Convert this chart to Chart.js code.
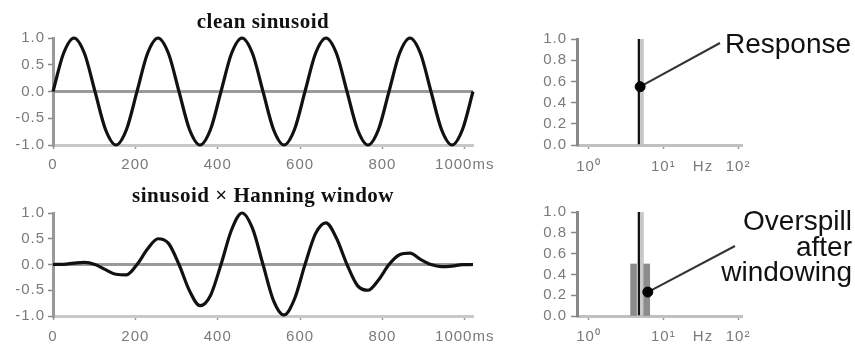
<!DOCTYPE html>
<html>
<head>
<meta charset="utf-8">
<script src="https://cdn.jsdelivr.net/npm/chart.js@4.4.0/dist/chart.umd.min.js"></script>
<style>
    body { margin: 0; background: #fff; }
    .box { position: absolute; }
</style>
</head>
<body>
<div class="box" style="left:0;top:0;width:500px;height:175px"><canvas id="wave_clean"></canvas></div>
<div class="box" style="left:0;top:175px;width:500px;height:171px"><canvas id="wave_hann"></canvas></div>
<div class="box" style="left:500px;top:0;width:355px;height:175px"><canvas id="spec_clean"></canvas></div>
<div class="box" style="left:500px;top:175px;width:355px;height:171px"><canvas id="spec_hann"></canvas></div>
<script>
// sample times (ms)
const time_ms = [0, 25.5, 51, 76.5, 102, 127.5, 153, 178.5, 204, 229.5, 255, 280.5, 306, 331.5, 357, 382.5,
    408, 433.5, 459, 484.5, 510, 535.5, 561, 586.5, 612, 637.5, 663, 688.5, 714, 739.5, 765, 790.5,
    816, 841.5, 867, 892.5, 918, 943.5, 969, 994.5, 1020]
// clean sinusoid
const clean_wave = [0, 0.71, 1, 0.71, 0, -0.71, -1, -0.71, 0, 0.71, 1, 0.71, 0, -0.71, -1, -0.71,
    0, 0.71, 1, 0.71, 0, -0.71, -1, -0.71, 0, 0.71, 1, 0.71, 0, -0.71, -1, -0.71,
    0, 0.71, 1, 0.71, 0, -0.71, -1, -0.71, 0]
// sinusoid x Hanning window
const hann_wave = [0, 0.004, 0.025, 0.04, 0, -0.1, -0.19, -0.2, 0, 0.3, 0.5, 0.41, 0, -0.51, -0.8, -0.6,
    0, 0.67, 1.0, 0.7, 0, -0.7, -0.98, -0.67, 0, 0.6, 0.81, 0.51, 0, -0.41, -0.5, -0.3,
    0, 0.19, 0.22, 0.1, 0, -0.04, -0.03, -0.004, 0]

const time_ticks = [0, 200, 400, 600, 800, 1000]
const time_tick_labels = ['0', '200', '400', '600', '800', '1000ms']
const wave_ticks = [-1, -0.5, 0, 0.5, 1]
const wave_tick_labels = ['-1.0', '-0.5', '0.0', '0.5', '1.0']

// spectra (Hz, amplitude)
const clean_freq = [5.0]
const clean_amp = [1.0]
const hann_freq = [4.0, 5.0, 6.0]
const hann_amp = [0.5, 1.0, 0.5]
const response_mark = [4.9, 0.55]
const overspill_mark = [6.2, 0.23]

const freq_ticks = [1, 10, 34, 100]
const freq_tick_labels = ['10⁰', '10¹', 'Hz', '10²']
const amp_ticks = [0, 0.2, 0.4, 0.6, 0.8, 1.0]
const amp_tick_labels = ['0.0', '0.2', '0.4', '0.6', '0.8', '1.0']

Chart.defaults.font.family = '"Liberation Sans", Arial, sans-serif'
Chart.defaults.font.size = 15
Chart.defaults.color = '#7a7a7a'
Chart.defaults.animation = false

// titles, callout texts and leader lines
function notes(cfg) {
    return {
        id: 'notes',
        beforeDraw(chart) {
            // wider tick lettering
            chart.ctx.letterSpacing = '1px'
        },
        beforeDatasetsDraw(chart) {
            if (!cfg.leader) return
            const dot = chart.getDatasetMeta(0).data[0]
            const ctx = chart.ctx
            ctx.save()
            ctx.strokeStyle = '#333'
            ctx.lineWidth = 2
            ctx.beginPath()
            ctx.moveTo(dot.x, dot.y)
            ctx.lineTo(cfg.leader[0], cfg.leader[1])
            ctx.stroke()
            ctx.restore()
        },
        afterDraw(chart) {
            const ctx = chart.ctx
            ctx.save()
            ctx.fillStyle = '#111'
            ctx.textBaseline = 'alphabetic'
            for (let t of cfg.texts) {
                ctx.font = t.font
                ctx.letterSpacing = t.spacing || '0px'
                ctx.textAlign = t.align
                ctx.fillText(t.text, t.x, t.y)
            }
            ctx.restore()
            ctx.letterSpacing = '0px'
        }
    }
}

function wave_chart(id, values, title, pad_top, title_y, label_pad) {
    const points = []
    for (let i = 0; i < time_ms.length; i++) {
        points.push({x: time_ms[i], y: values[i]})
    }
    new Chart(document.getElementById(id), {
        type: 'line',
        data: {
            datasets: [{
                data: points,
                borderColor: '#111',
                borderWidth: 3.2,
                pointRadius: 0,
                cubicInterpolationMode: 'monotone',
                clip: false
            }]
        },
        options: {
            responsive: true,
            maintainAspectRatio: false,
            layout: {padding: {top: pad_top, right: 27, left: 0, bottom: 0}},
            plugins: {legend: {display: false}, tooltip: {enabled: false}},
            scales: {
                x: {
                    type: 'linear', min: 0, max: 1020,
                    afterBuildTicks: s => { s.ticks = time_ticks.map(v => ({value: v})) },
                    afterFit: s => { s.height = 30 },
                    ticks: {callback: (v, i) => time_tick_labels[i], padding: label_pad, maxRotation: 0, autoSkip: false},
                    grid: {drawOnChartArea: false, tickLength: 4, tickColor: '#999', tickWidth: 1.5},
                    border: {color: '#c8c8c8', width: 3}
                },
                y: {
                    min: -1, max: 1,
                    afterBuildTicks: s => { s.ticks = wave_ticks.map(v => ({value: v})) },
                    afterFit: s => { s.width = 53 },
                    ticks: {callback: (v, i) => wave_tick_labels[i], padding: 3, autoSkip: false},
                    grid: {
                        color: c => (c.tick && c.tick.value === 0) ? '#9a9a9a' : 'rgba(0,0,0,0)',
                        lineWidth: 3, tickColor: '#888', tickLength: 5, tickWidth: 1.5
                    },
                    border: {color: '#999', width: 3}
                }
            }
        },
        plugins: [notes({texts: [{text: title, x: 263, y: title_y, align: 'center', spacing: '0.5px',
            font: 'bold 21px "Liberation Serif", serif'}]})]
    })
}

function spectrum_chart(id, freqs, amps, mark, pad_top, label_pad, cfg) {
    const bars = []
    for (let i = 0; i < freqs.length; i++) {
        bars.push({x: freqs[i], y: amps[i]})
    }
    new Chart(document.getElementById(id), {
        type: 'bar',
        data: {
            datasets: [{
                type: 'scatter',
                data: [{x: mark[0], y: mark[1]}],
                pointRadius: 5,
                backgroundColor: '#000',
                borderColor: '#000',
                order: 0
            }, {
                type: 'bar',
                data: bars,
                barThickness: 6,
                backgroundColor: c => (c.raw && c.raw.y >= 1) ? '#c8c8c8' : '#8c8c8c',
                borderColor: '#111',
                borderWidth: c => (c.raw && c.raw.y >= 1) ? {left: 2.5, right: 0, top: 0, bottom: 0} : 0,
                borderSkipped: false,
                order: 1
            }]
        },
        options: {
            responsive: true,
            maintainAspectRatio: false,
            layout: {padding: {top: pad_top, right: 113, left: 0, bottom: 0}},
            plugins: {legend: {display: false}, tooltip: {enabled: false}},
            scales: {
                x: {
                    type: 'logarithmic', min: 0.713, max: 113, offset: false,
                    afterBuildTicks: s => { s.ticks = freq_ticks.map(v => ({value: v})) },
                    afterFit: s => { s.height = 30 },
                    ticks: {callback: (v, i) => freq_tick_labels[i], padding: label_pad, maxRotation: 0, autoSkip: false},
                    grid: {
                        offset: false, drawOnChartArea: false, tickLength: 4, tickWidth: 1.5,
                        tickColor: c => c.index === 2 ? 'rgba(0,0,0,0)' : '#999'
                    },
                    border: {color: '#c0c0c0', width: 3}
                },
                y: {
                    min: 0, max: 1,
                    afterBuildTicks: s => { s.ticks = amp_ticks.map(v => ({value: v})) },
                    afterFit: s => { s.width = 77 },
                    ticks: {callback: (v, i) => amp_tick_labels[i], padding: 4, autoSkip: false},
                    grid: {drawOnChartArea: false, tickColor: '#888', tickLength: 6, tickWidth: 1.5},
                    border: {color: '#888', width: 3}
                }
            }
        },
        plugins: [notes(cfg)]
    })
}

const callout_font = '28px "Liberation Sans", Arial, sans-serif'

wave_chart('wave_clean', clean_wave, 'clean sinusoid', 38, 28, 7)
wave_chart('wave_hann', hann_wave, 'sinusoid × Hanning window', 38, 27, 8)
spectrum_chart('spec_clean', clean_freq, clean_amp, response_mark, 39, 9, {
    leader: [220, 43],
    texts: [{text: 'Response', x: 225, y: 53, align: 'left', font: callout_font}]
})
spectrum_chart('spec_hann', hann_freq, hann_amp, overspill_mark, 37, 8, {
    leader: [235, 71],
    texts: [
        {text: 'Overspill', x: 352, y: 55, align: 'right', font: callout_font},
        {text: 'after', x: 352, y: 80.5, align: 'right', font: callout_font},
        {text: 'windowing', x: 352, y: 106, align: 'right', font: callout_font}
    ]
})
</script>
</body>
</html>
